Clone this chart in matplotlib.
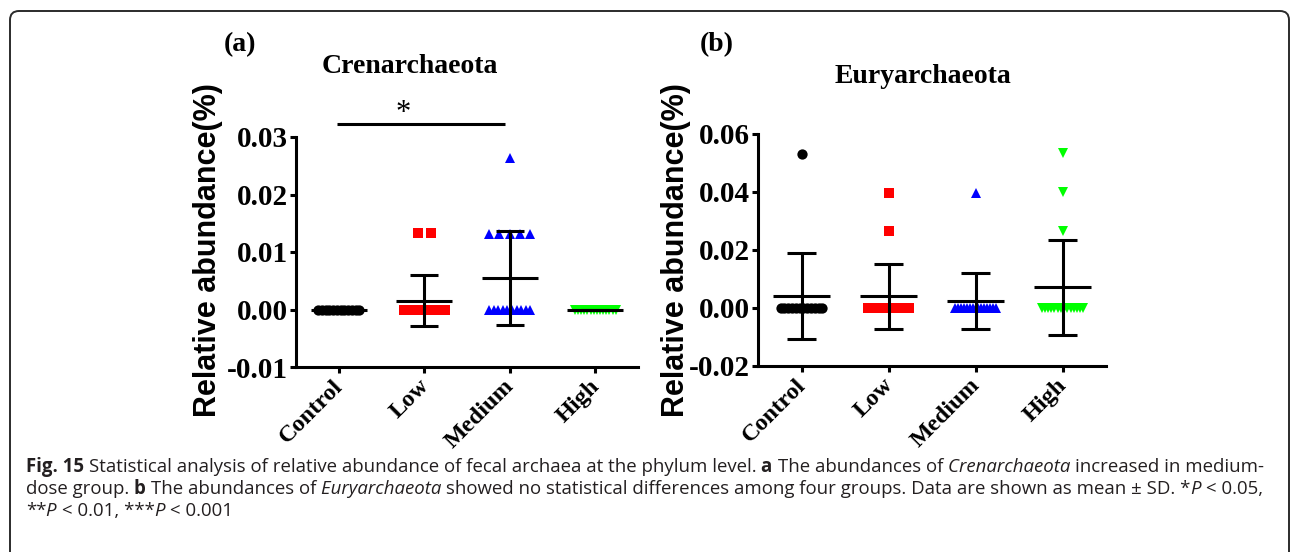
import matplotlib
matplotlib.use('Agg')
import numpy as np
import matplotlib.pyplot as plt
from matplotlib.patches import FancyBboxPatch
from matplotlib.transforms import IdentityTransform, ScaledTranslation, blended_transform_factory
from matplotlib.font_manager import FontProperties

# groups / styles
groups = ['Control', 'Low', 'Medium', 'High']
colors = ['#000000', '#ff0000', '#0000ff', '#00ff00']
markers = ['o', 's', '^', 'v']

# (a) Crenarchaeota, individual values and mean / SD
cren_control = [0.0] * 12
cren_low = [0.0133, 0.0133] + [0.0] * 14
cren_medium = [0.0264] + [0.0132] * 5 + [0.0] * 10
cren_high = [0.0] * 14
cren_mean = [0.0, 0.00156, 0.0055, 0.0]
cren_sd = [0.0, 0.0044, 0.0082, 0.0]
cren_yticks = [-0.01, 0.00, 0.01, 0.02, 0.03]

# (b) Euryarchaeota
eury_control = [0.0531] + [0.0] * 12
eury_low = [0.0397, 0.0264] + [0.0] * 14
eury_medium = [0.0395] + [0.0] * 15
eury_high = [0.0533, 0.0399, 0.0267] + [0.0] * 14
eury_mean = [0.0042, 0.0041, 0.0025, 0.0071]
eury_sd = [0.0148, 0.0112, 0.0097, 0.0163]
eury_yticks = [-0.02, 0.00, 0.02, 0.04, 0.06]

W, H = 1292, 552
fig = plt.figure(figsize=(W / 100, H / 100), dpi=100)

serif = 'Liberation Serif'
LW = 2.2


def spread(vals, step=0.155, half=0.24):
    # scatter-dot layout: equal values side by side
    vals = np.asarray(vals)
    xs = np.zeros(len(vals))
    for v in np.unique(vals):
        idx = np.where(vals == v)[0]
        n = len(idx)
        if n > 1:
            w = min(step * (n - 1), 2 * half)
            xs[idx] = np.linspace(-w / 2, w / 2, n)
    return xs


def panel(rect, data, mean, sd, yticks):
    ax = fig.add_axes(rect)
    for i, vals in enumerate(data):
        ax.plot(i + spread(vals), vals, ls='none', marker=markers[i], ms=7.4,
                color=colors[i], mew=0, zorder=2, clip_on=False)
        m, s = mean[i], sd[i]
        kw = dict(color='k', lw=LW, zorder=3, solid_capstyle='butt', clip_on=False)
        ax.plot([i - 0.33, i + 0.33], [m, m], **kw)
        ax.plot([i, i], [m - s, m + s], **kw)
        ax.plot([i - 0.165, i + 0.165], [m + s, m + s], **kw)
        ax.plot([i - 0.165, i + 0.165], [m - s, m - s], **kw)
    ax.set_xlim(-0.5, 3.5)
    ax.set_ylim(yticks[0], yticks[-1])
    ax.set_yticks(yticks)
    ax.set_yticklabels(['%.2f' % t for t in yticks], fontfamily=serif,
                       fontweight='bold', fontsize=21)
    ax.set_xticks(range(len(groups)))
    ax.set_xticklabels([])
    # rotated group labels, ending just left of each tick
    trans = blended_transform_factory(ax.transData, ax.transAxes) + \
        ScaledTranslation(-0.06, -0.085, fig.dpi_scale_trans)
    for i, g in enumerate(groups):
        ax.text(i, 0, g, transform=trans, rotation=45, ha='right', va='top',
                rotation_mode='anchor', fontfamily=serif, fontweight='bold',
                fontsize=17.5)
    for side in ['top', 'right']:
        ax.spines[side].set_visible(False)
    for side in ['left', 'bottom']:
        ax.spines[side].set_linewidth(LW)
    ax.tick_params(axis='both', direction='out', length=4.5, width=LW)
    ax.tick_params(axis='y', pad=1)
    ax.patch.set_visible(False)
    return ax


ax_a = panel([296 / W, 1 - 367 / H, 342 / W, 230 / H],
             [cren_control, cren_low, cren_medium, cren_high], cren_mean, cren_sd, cren_yticks)
ax_b = panel([758 / W, 1 - 366 / H, 348 / W, 232 / H],
             [eury_control, eury_low, eury_medium, eury_high], eury_mean, eury_sd, eury_yticks)

# significance bar Control vs Medium
ax_a.plot([-0.02, 1.94], [0.0322, 0.0322], color='k', lw=LW, clip_on=False,
          solid_capstyle='butt')
ax_a.text(0.75, 0.0327, '*', ha='center', va='baseline', fontsize=22,
          fontfamily=serif)

# y labels, titles, panel letters
for x in (208, 676):
    fig.text(x / W, 1 - 250 / H, 'Relative abundance(%)', rotation=90,
             ha='center', va='center', fontfamily='Liberation Sans',
             fontweight='bold', fontsize=22)
fig.text(410 / W, 1 - 73 / H, 'Crenarchaeota', ha='center', va='baseline',
         fontfamily=serif, fontweight='bold', fontsize=20)
fig.text(923 / W, 1 - 83 / H, 'Euryarchaeota', ha='center', va='baseline',
         fontfamily=serif, fontweight='bold', fontsize=20)
fig.text(240 / W, 1 - 51 / H, '(a)', ha='center', va='baseline',
         fontfamily=serif, fontweight='bold', fontsize=20)
fig.text(717 / W, 1 - 51 / H, '(b)', ha='center', va='baseline',
         fontfamily=serif, fontweight='bold', fontsize=20)

# rounded frame
frame = FancyBboxPatch((10, -30), 1279, H - 11 + 30,
                       boxstyle='round,pad=0,rounding_size=9',
                       transform=IdentityTransform(), fill=False,
                       ec='#2b2b2b', lw=1.4)
fig.add_artist(frame)

# caption
renderer = fig.canvas.get_renderer()
CAP = 13.4


def caption_line(x, y, parts):
    for txt, st in parts:
        prop = FontProperties(family='Open Sans', size=CAP,
                              weight='bold' if st == 'b' else 'normal',
                              style='italic' if st == 'i' else 'normal')
        fig.text(x, H - y, txt, fontproperties=prop, color='#231f20',
                 ha='left', va='baseline', transform=IdentityTransform())
        wb = renderer.get_text_width_height_descent('|', prop, ismath=False)[0]
        w = renderer.get_text_width_height_descent(txt + '|', prop, ismath=False)[0]
        x += w - wb


caption_line(26, 472, [
    ('Fig. 15 ', 'b'),
    ('Statistical analysis of relative abundance of fecal archaea at the phylum level. ', 'r'),
    ('a ', 'b'), ('The abundances of ', 'r'), ('Crenarchaeota ', 'i'),
    ('increased in medium-', 'r')])
caption_line(26, 494, [
    ('dose group. ', 'r'), ('b ', 'b'), ('The abundances of ', 'r'),
    ('Euryarchaeota ', 'i'),
    ('showed no statistical differences among four groups. Data are shown as mean \u00b1 SD. *', 'r'),
    ('P ', 'i'), ('< 0.05,', 'r')])
caption_line(26, 516, [
    ('**', 'r'), ('P ', 'i'), ('< 0.01, ***', 'r'), ('P ', 'i'), ('< 0.001', 'r')])

fig.savefig('out.png', dpi=100)
